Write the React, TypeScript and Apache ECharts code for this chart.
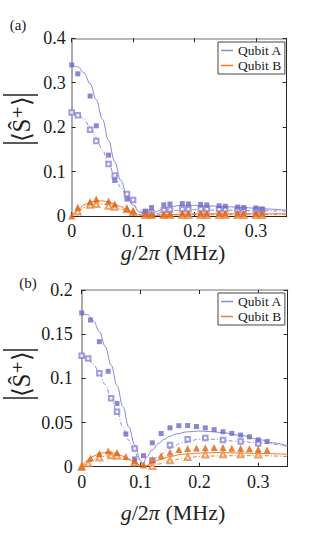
import React, { useEffect, useRef } from "react";
import * as echarts from "echarts";

// ---------- Panel (a) data ----------
const aFilledAX = [0, 0.01, 0.03, 0.04, 0.06, 0.07, 0.09, 0.12, 0.13, 0.15, 0.16, 0.18, 0.19, 0.21, 0.22, 0.24, 0.25, 0.27, 0.28, 0.3, 0.31];
const aFilledAY = [0.34, 0.32, 0.27, 0.203, 0.137, 0.08, 0.038, 0.011, 0.019, 0.025, 0.027, 0.028, 0.027, 0.026, 0.025, 0.023, 0.022, 0.02, 0.019, 0.018, 0.016];
const aOpenX = [0, 0.01, 0.03, 0.04, 0.06, 0.07, 0.09, 0.1, 0.12, 0.13, 0.15, 0.16, 0.18, 0.19, 0.21, 0.22, 0.24, 0.25, 0.27, 0.28, 0.3, 0.31];
const aOpenAY = [0.233, 0.227, 0.194, 0.169, 0.117, 0.091, 0.0495, 0.036, 0.008, 0.008, 0.013, 0.014, 0.015, 0.015, 0.015, 0.015, 0.015, 0.015, 0.014, 0.014, 0.014, 0.013];
const aFilledBY = [0, 0.0195, 0.032, 0.038, 0.034, 0.027, 0.017, 0.011, 0.005, 0.004, 0.004, 0.005, 0.006, 0.006, 0.006, 0.006, 0.006, 0.006, 0.006, 0.006, 0.006, 0.006];
const aOpenBX = [0.01, 0.03, 0.04, 0.06, 0.07, 0.09, 0.1, 0.12, 0.13, 0.15, 0.16, 0.18, 0.19, 0.21, 0.22, 0.24, 0.25, 0.27, 0.28, 0.3, 0.31];
const aOpenBY = [0.01, 0.0255, 0.027, 0.023, 0.021, 0.015, 0.009, 0.002, 0.002, 0.002, 0.002, 0.002, 0.002, 0.002, 0.002, 0.002, 0.002, 0.002, 0.002, 0.002, 0.002];

const aCurveAX = [0, 0.01, 0.02, 0.03, 0.04, 0.05, 0.06, 0.07, 0.08, 0.09, 0.1, 0.11, 0.12, 0.125, 0.13, 0.14, 0.15, 0.16, 0.18, 0.2, 0.22, 0.25, 0.28, 0.31, 0.35];
const aCurveAY = [0.34, 0.336, 0.322, 0.298, 0.262, 0.218, 0.17, 0.122, 0.08, 0.047, 0.024, 0.009, 0.002, 0.001, 0.004, 0.011, 0.017, 0.021, 0.024, 0.024, 0.023, 0.021, 0.019, 0.016, 0.013];
const aDashAX = [0, 0.01, 0.02, 0.03, 0.04, 0.05, 0.06, 0.07, 0.08, 0.09, 0.1, 0.11, 0.12, 0.13, 0.14, 0.15, 0.17, 0.2, 0.25, 0.3, 0.35];
const aDashAY = [0.233, 0.229, 0.218, 0.2, 0.176, 0.148, 0.118, 0.09, 0.064, 0.042, 0.025, 0.012, 0.004, 0.002, 0.006, 0.01, 0.013, 0.014, 0.013, 0.012, 0.011];
const aCurveBX = [0, 0.01, 0.02, 0.03, 0.04, 0.05, 0.06, 0.07, 0.08, 0.09, 0.1, 0.11, 0.12, 0.13, 0.15, 0.2, 0.25, 0.3, 0.35];
const aCurveBY = [0, 0.014, 0.025, 0.031, 0.034, 0.034, 0.032, 0.027, 0.021, 0.014, 0.008, 0.003, 0.0005, 0.001, 0.003, 0.005, 0.005, 0.005, 0.005];
const aDashBY = [0, 0.01, 0.019, 0.024, 0.027, 0.027, 0.025, 0.021, 0.016, 0.011, 0.006, 0.002, 0.0003, 0.001, 0.002, 0.003, 0.003, 0.003, 0.003];

// ---------- Panel (b) data ----------
const bFilledX = [0, 0.015, 0.03, 0.045, 0.06, 0.075, 0.09, 0.105, 0.12, 0.135, 0.15, 0.165, 0.18, 0.195, 0.21, 0.225, 0.24, 0.255, 0.27, 0.285, 0.3, 0.315];
const bFilledAY = [0.174, 0.166, 0.1415, 0.108, 0.0715, 0.037, 0.0088, 0.0125, 0.027, 0.0376, 0.044, 0.0464, 0.0466, 0.0455, 0.044, 0.0419, 0.0396, 0.0377, 0.0358, 0.0338, 0.0304, 0.0286];
const bFilledBY = [0, 0.0095, 0.015, 0.0178, 0.016, 0.0115, 0.0068, 0.002, 0.008, 0.0125, 0.0163, 0.0195, 0.0205, 0.0212, 0.0215, 0.0218, 0.0218, 0.021, 0.0208, 0.0202, 0.0198, 0.0188];
const bOpenX = [0, 0.011, 0.03, 0.05, 0.06, 0.09, 0.12, 0.15, 0.18, 0.21, 0.24, 0.27, 0.3];
const bOpenAY = [0.1257, 0.1226, 0.1057, 0.0776, 0.0623, 0.0205, 0.007, 0.0245, 0.031, 0.0325, 0.0302, 0.0285, 0.0262];
const bOpenBY = [0, 0.0038, 0.0105, 0.013, 0.0125, 0.005, 0.0008, 0.0072, 0.011, 0.0138, 0.014, 0.014, 0.0138];

const bCurveAX = [0, 0.01, 0.02, 0.03, 0.04, 0.05, 0.06, 0.07, 0.08, 0.09, 0.1, 0.104, 0.11, 0.12, 0.13, 0.14, 0.15, 0.16, 0.18, 0.2, 0.22, 0.24, 0.27, 0.3, 0.325, 0.35];
const bCurveAY = [0.174, 0.172, 0.165, 0.153, 0.136, 0.115, 0.092, 0.068, 0.045, 0.025, 0.007, 0.001, 0.011, 0.019, 0.026, 0.031, 0.0345, 0.037, 0.0395, 0.0403, 0.0397, 0.0385, 0.0355, 0.031, 0.027, 0.0235];
const bDashAX = [0, 0.01, 0.02, 0.03, 0.04, 0.05, 0.06, 0.07, 0.08, 0.09, 0.1, 0.11, 0.12, 0.13, 0.15, 0.17, 0.2, 0.23, 0.26, 0.3, 0.35];
const bDashAY = [0.126, 0.123, 0.116, 0.106, 0.093, 0.078, 0.062, 0.045, 0.03, 0.016, 0.005, 0.001, 0.006, 0.012, 0.021, 0.027, 0.031, 0.031, 0.029, 0.027, 0.023];
const bCurveBX = [0, 0.01, 0.02, 0.03, 0.04, 0.05, 0.06, 0.07, 0.08, 0.09, 0.1, 0.11, 0.12, 0.13, 0.15, 0.17, 0.2, 0.23, 0.27, 0.3, 0.35];
const bCurveBY = [0, 0.007, 0.012, 0.015, 0.016, 0.016, 0.0145, 0.012, 0.0085, 0.005, 0.0015, 0.001, 0.004, 0.0075, 0.0115, 0.014, 0.0155, 0.016, 0.0155, 0.015, 0.014];
const bDashBY = [0, 0.004, 0.008, 0.0105, 0.012, 0.0125, 0.012, 0.0095, 0.0068, 0.0038, 0.001, 0, 0.0015, 0.003, 0.0065, 0.009, 0.0115, 0.0122, 0.0125, 0.0125, 0.0115];

const xTicks = { min: 0, max: 0.35, interval: 0.1 };
const yTicksA = { min: 0, max: 0.4, interval: 0.1 };
const yTicksB = { min: 0, max: 0.2, interval: 0.05 };
const legendNames = ["Qubit A", "Qubit B"];

const FONT = "Liberation Serif";
const COL_A = "#6e69c5";
const COL_A_LINE = "#8c88d6";
const COL_A_OPEN = "#8985d4";
const COL_B = "#e2620d";
const COL_B_LINE = "#ea7a30";
const COL_B_OPEN = "#ec8744";
const DARK = "#262626";
const GRAY = "#a3a3a3";

const zip = (xs: number[], ys: number[]) => xs.map((x, i) => [x, ys[i]]);
const fmt = (v: number) => String(Number(v.toFixed(3)));

function App() {
  const ref = useRef<HTMLDivElement>(null);
  useEffect(() => {
    if (!ref.current) return;
    const chart = echarts.init(ref.current, null, { renderer: "svg" });

    const grids = [
      { left: 71.7, top: 38.3, width: 215, height: 177.7 },
      { left: 81.7, top: 290, width: 206, height: 176.7 },
    ];

    const labelStyle = { fontSize: 18, fontFamily: FONT, fontWeight: "normal", color: "#1a1a1a" };

    const xAxes: any[] = [];
    const yAxes: any[] = [];
    [0, 1].forEach((g) => {
      xAxes.push({
        gridIndex: g, type: "value", position: "bottom", ...xTicks,
        axisLine: { show: true, onZero: false, lineStyle: { color: DARK, width: 1 } },
        axisTick: { show: true, inside: true, length: 4, lineStyle: { color: DARK } },
        axisLabel: { ...labelStyle, margin: 6, showMaxLabel: false, formatter: (v: number) => (v > 0.34 ? "" : fmt(v)) },
        splitLine: { show: false },
      });
      xAxes.push({
        gridIndex: g, type: "value", position: "top", ...xTicks,
        axisLine: { show: true, onZero: false, lineStyle: { color: GRAY, width: 1.5 } },
        axisTick: { show: true, inside: true, length: 4, lineStyle: { color: DARK } },
        axisLabel: { show: false },
        splitLine: { show: false },
      });
      const yt = g === 0 ? yTicksA : yTicksB;
      yAxes.push({
        gridIndex: g, type: "value", position: "left", ...yt,
        axisLine: { show: true, onZero: false, lineStyle: { color: GRAY, width: 1.8 } },
        axisTick: { show: true, inside: true, length: 4, lineStyle: { color: DARK } },
        axisLabel: { ...labelStyle, margin: g === 0 ? 6 : 9, formatter: (v: number) => fmt(v) },
        splitLine: { show: false },
      });
      yAxes.push({
        gridIndex: g, type: "value", position: "right", ...yt,
        axisLine: { show: true, onZero: false, lineStyle: { color: DARK, width: 1 } },
        axisTick: { show: true, inside: true, length: 4, lineStyle: { color: DARK } },
        axisLabel: { show: false },
        splitLine: { show: false },
      });
    });

    const line = (name: string, g: number, xs: number[], ys: number[], color: string, dashed: boolean) => ({
      name, type: "line", xAxisIndex: g * 2, yAxisIndex: g * 2,
      data: zip(xs, ys), showSymbol: false, symbol: "none",
      smooth: 0.4, smoothMonotone: "x", color,
      lineStyle: { color, width: 1, type: dashed ? [4, 2, 1, 2] : "solid" },
      z: 2, silent: true,
    });
    const scatter = (name: string, g: number, xs: number[], ys: number[], symbol: string, size: number, color: string) => ({
      name, type: "scatter", xAxisIndex: g * 2, yAxisIndex: g * 2,
      data: zip(xs, ys), symbol, symbolSize: size,
      itemStyle: { color, borderColor: color, borderWidth: symbol.startsWith("empty") ? 1 : 0 },
      z: 3, silent: true,
    });

    const series: any[] = [
      line("Qubit A", 0, aCurveAX, aCurveAY, COL_A_LINE, false),
      line("A dash a", 0, aDashAX, aDashAY, COL_A_LINE, true),
      line("Qubit B", 0, aCurveBX, aCurveBY, COL_B_LINE, false),
      line("B dash a", 0, aCurveBX, aDashBY, COL_B_LINE, true),
      scatter("A open a", 0, aOpenX, aOpenAY, "emptyRect", 4.5, COL_A_OPEN),
      scatter("B open a", 0, aOpenBX, aOpenBY, "emptyTriangle", 6, COL_B_OPEN),
      scatter("A filled a", 0, aFilledAX, aFilledAY, "rect", 5, COL_A),
      scatter("B filled a", 0, aOpenX, aFilledBY, "triangle", 7, COL_B),

      line("Qubit A", 1, bCurveAX, bCurveAY, COL_A_LINE, false),
      line("A dash b", 1, bDashAX, bDashAY, COL_A_LINE, true),
      line("Qubit B", 1, bCurveBX, bCurveBY, COL_B_LINE, false),
      line("B dash b", 1, bCurveBX, bDashBY, COL_B_LINE, true),
      scatter("A open b", 1, bOpenX, bOpenAY, "emptyRect", 4.5, COL_A_OPEN),
      scatter("B open b", 1, bOpenX, bOpenBY, "emptyTriangle", 6, COL_B_OPEN),
      scatter("A filled b", 1, bFilledX, bFilledAY, "rect", 5, COL_A),
      scatter("B filled b", 1, bFilledX, bFilledBY, "triangle", 7, COL_B),
    ];

    const legend = (top: number) => ({
      data: legendNames.map((n) => ({ name: n, icon: "rect" })),
      left: 218, top, orient: "vertical",
      padding: [1, 3, 1, 3], itemGap: 0, itemWidth: 12, itemHeight: 1.5,
      borderColor: "#444", borderWidth: 1, backgroundColor: "#fff",
      textStyle: { fontSize: 13.5, fontFamily: FONT, color: "#222", lineHeight: 15 },
      selectedMode: false,
    });

    const yLabel = (cy: number) => ({
      type: "group",
      children: [
        { type: "line", shape: { x1: 3, y1: cy - 24, x2: 38, y2: cy - 24 }, style: { stroke: "#222", lineWidth: 1.3 } },
        { type: "line", shape: { x1: 3, y1: cy + 24, x2: 38, y2: cy + 24 }, style: { stroke: "#222", lineWidth: 1.3 } },
        {
          type: "text", x: 21, y: cy, rotation: Math.PI / 2,
          style: { text: "⟨Ŝ⁺⟩", fontSize: 25, fontFamily: FONT, fill: "#222", align: "center", verticalAlign: "middle" },
        },
      ],
    });
    const xTitle = (cy: number) => ({
      type: "text", x: 173, y: cy,
      style: {
        text: "{i|g}{r|/2}{i|π}{r| (MHz)}", fontSize: 22, fontFamily: FONT, fill: "#222", align: "center", verticalAlign: "middle",
        rich: {
          i: { fontStyle: "italic", fontSize: 22, fontFamily: FONT, fill: "#222" },
          r: { fontSize: 22, fontFamily: FONT, fill: "#222" },
        },
      },
    });
    const panelLabel = (x: number, y: number, t: string) => ({
      type: "text", x, y,
      style: { text: t, fontSize: 15, fontFamily: FONT, fill: "#222", align: "center", verticalAlign: "middle" },
    });

    chart.setOption({
      animation: false,
      backgroundColor: "#fff",
      textStyle: { fontFamily: FONT },
      grid: grids,
      xAxis: xAxes,
      yAxis: yAxes,
      legend: [legend(42), legend(293)],
      series,
      graphic: [
        yLabel(119), yLabel(374),
        xTitle(252), xTitle(512),
        panelLabel(18, 25, "(a)"), panelLabel(28, 283, "(b)"),
      ],
    });
    return () => chart.dispose();
  }, []);
  return <div ref={ref} style={{ position: "fixed", left: 0, top: 0, width: 332, height: 540, background: "#fff" }} />;
}

export default App;
